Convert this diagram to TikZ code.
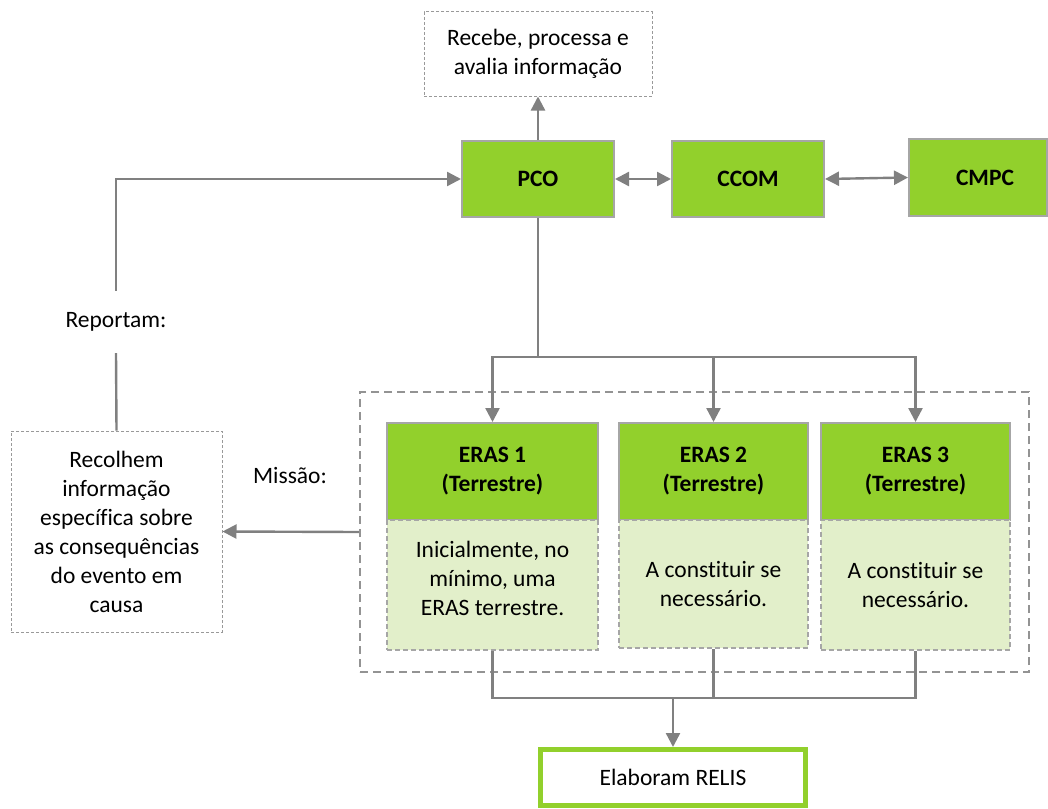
\documentclass[tikz,border=0pt]{standalone}
\usepackage{fontspec}
\setmainfont{Carlito}[Ligatures=NoCommon]
\usetikzlibrary{arrows.meta}
\definecolor{grn}{RGB}{146,208,44}
\definecolor{lgrn}{RGB}{226,239,202}
\definecolor{ln}{RGB}{128,128,128}
\definecolor{bd}{RGB}{166,166,166}
\begin{document}
\begin{tikzpicture}[x=1pt,y=-1pt,
  every node/.style={font=\fontsize{23.5}{29}\selectfont, align=center, inner sep=0pt},
  conn/.style={draw=ln, line width=2.4pt},
  arr/.style={conn, -{Triangle[length=14pt,width=14pt]}},
  darr/.style={conn, {Triangle[length=14pt,width=14pt]}-{Triangle[length=14pt,width=14pt]}},
  gbox/.style={draw=bd, line width=2pt, fill=grn, font=\fontsize{23.5}{29}\selectfont\bfseries},
  lbox/.style={draw=bd, line width=1.6pt, fill=lgrn, dash pattern=on 5pt off 3pt},
  tbox/.style={draw=ln!80, line width=1pt, dash pattern=on 3pt off 2pt},
  cont/.style={draw=ln!85, line width=2.2pt, dash pattern=on 8pt off 5pt}
]
\useasboundingbox (0,0) rectangle (1048,808);
% top info box
\node[tbox, minimum width=228pt, minimum height=84pt] (info) at (538,54) {Recebe, processa e\\avalia informação};
% main row
\node[gbox, minimum width=152pt, minimum height=76pt] (pco) at (538,179) {PCO};
\node[gbox, minimum width=152pt, minimum height=76pt] (ccom) at (748,179) {CCOM};
\node[gbox, minimum width=138pt, minimum height=77pt] (cmpc) at (978,177.5) {\hspace*{14pt}CMPC};
% container
\node[cont, minimum width=669pt, minimum height=280pt] (box) at (694.5,532) {};
% ERAS headers
\node[gbox, minimum width=211pt, minimum height=97pt] (e1) at (492.5,471.5) {ERAS 1\\(Terrestre)};
\node[gbox, minimum width=189pt, minimum height=97pt] (e2) at (713.5,471.5) {ERAS 2\\(Terrestre)};
\node[gbox, minimum width=189pt, minimum height=97pt] (e3) at (915.5,471.5) {ERAS 3\\(Terrestre)};
% ERAS bodies
\node[lbox, minimum width=211pt, minimum height=130pt] (l1) at (492.5,585) {};
\node at (492.5,578) {Inicialmente, no\\mínimo, uma\\ERAS terrestre.};
\node[lbox, minimum width=189pt, minimum height=128pt] (l2) at (713.5,584) {A constituir se\\necessário.};
\node[lbox, minimum width=189pt, minimum height=130pt] (l3) at (915.5,585) {A constituir se\\necessário.};
% left side
\node[tbox, minimum width=211pt, minimum height=201pt] (rec) at (116.5,531.5) {Recolhem\\informação\\específica sobre\\as consequências\\do evento em\\causa};
\node[minimum height=62pt] (rep) at (116,322) {Reportam:};
\node (mis) at (290,476) {Missão:};
% bottom
\node[draw=grn, line width=5pt, minimum width=265pt, minimum height=56pt] (relis) at (673,777.5) {Elaboram RELIS};
\coordinate (split) at (538,357);
\coordinate (join) at (673,698);
% connectors
\draw[arr] (pco.north) -- (info.south);
\draw[darr] (pco.east) -- (ccom.west);
\draw[darr] (ccom.east) -- (cmpc.west);
\draw[conn] (pco.south) -- (split);
\draw[arr] (split) -| (e1.north);
\draw[arr] (split) -| (e2.north);
\draw[arr] (split) -| (e3.north);
\draw[arr] (box.west) -- (rec.east);
\draw[conn] (rec.north) -- (rep.south);
\draw[arr] (rep.north) |- (pco.west);
\draw[conn] (l1.south) |- (join);
\draw[conn] (l3.south) |- (join);
\draw[conn] (l2.south) -- (l2.south |- join);
\draw[arr] (join) -- (relis.north);
\end{tikzpicture}
\end{document}
